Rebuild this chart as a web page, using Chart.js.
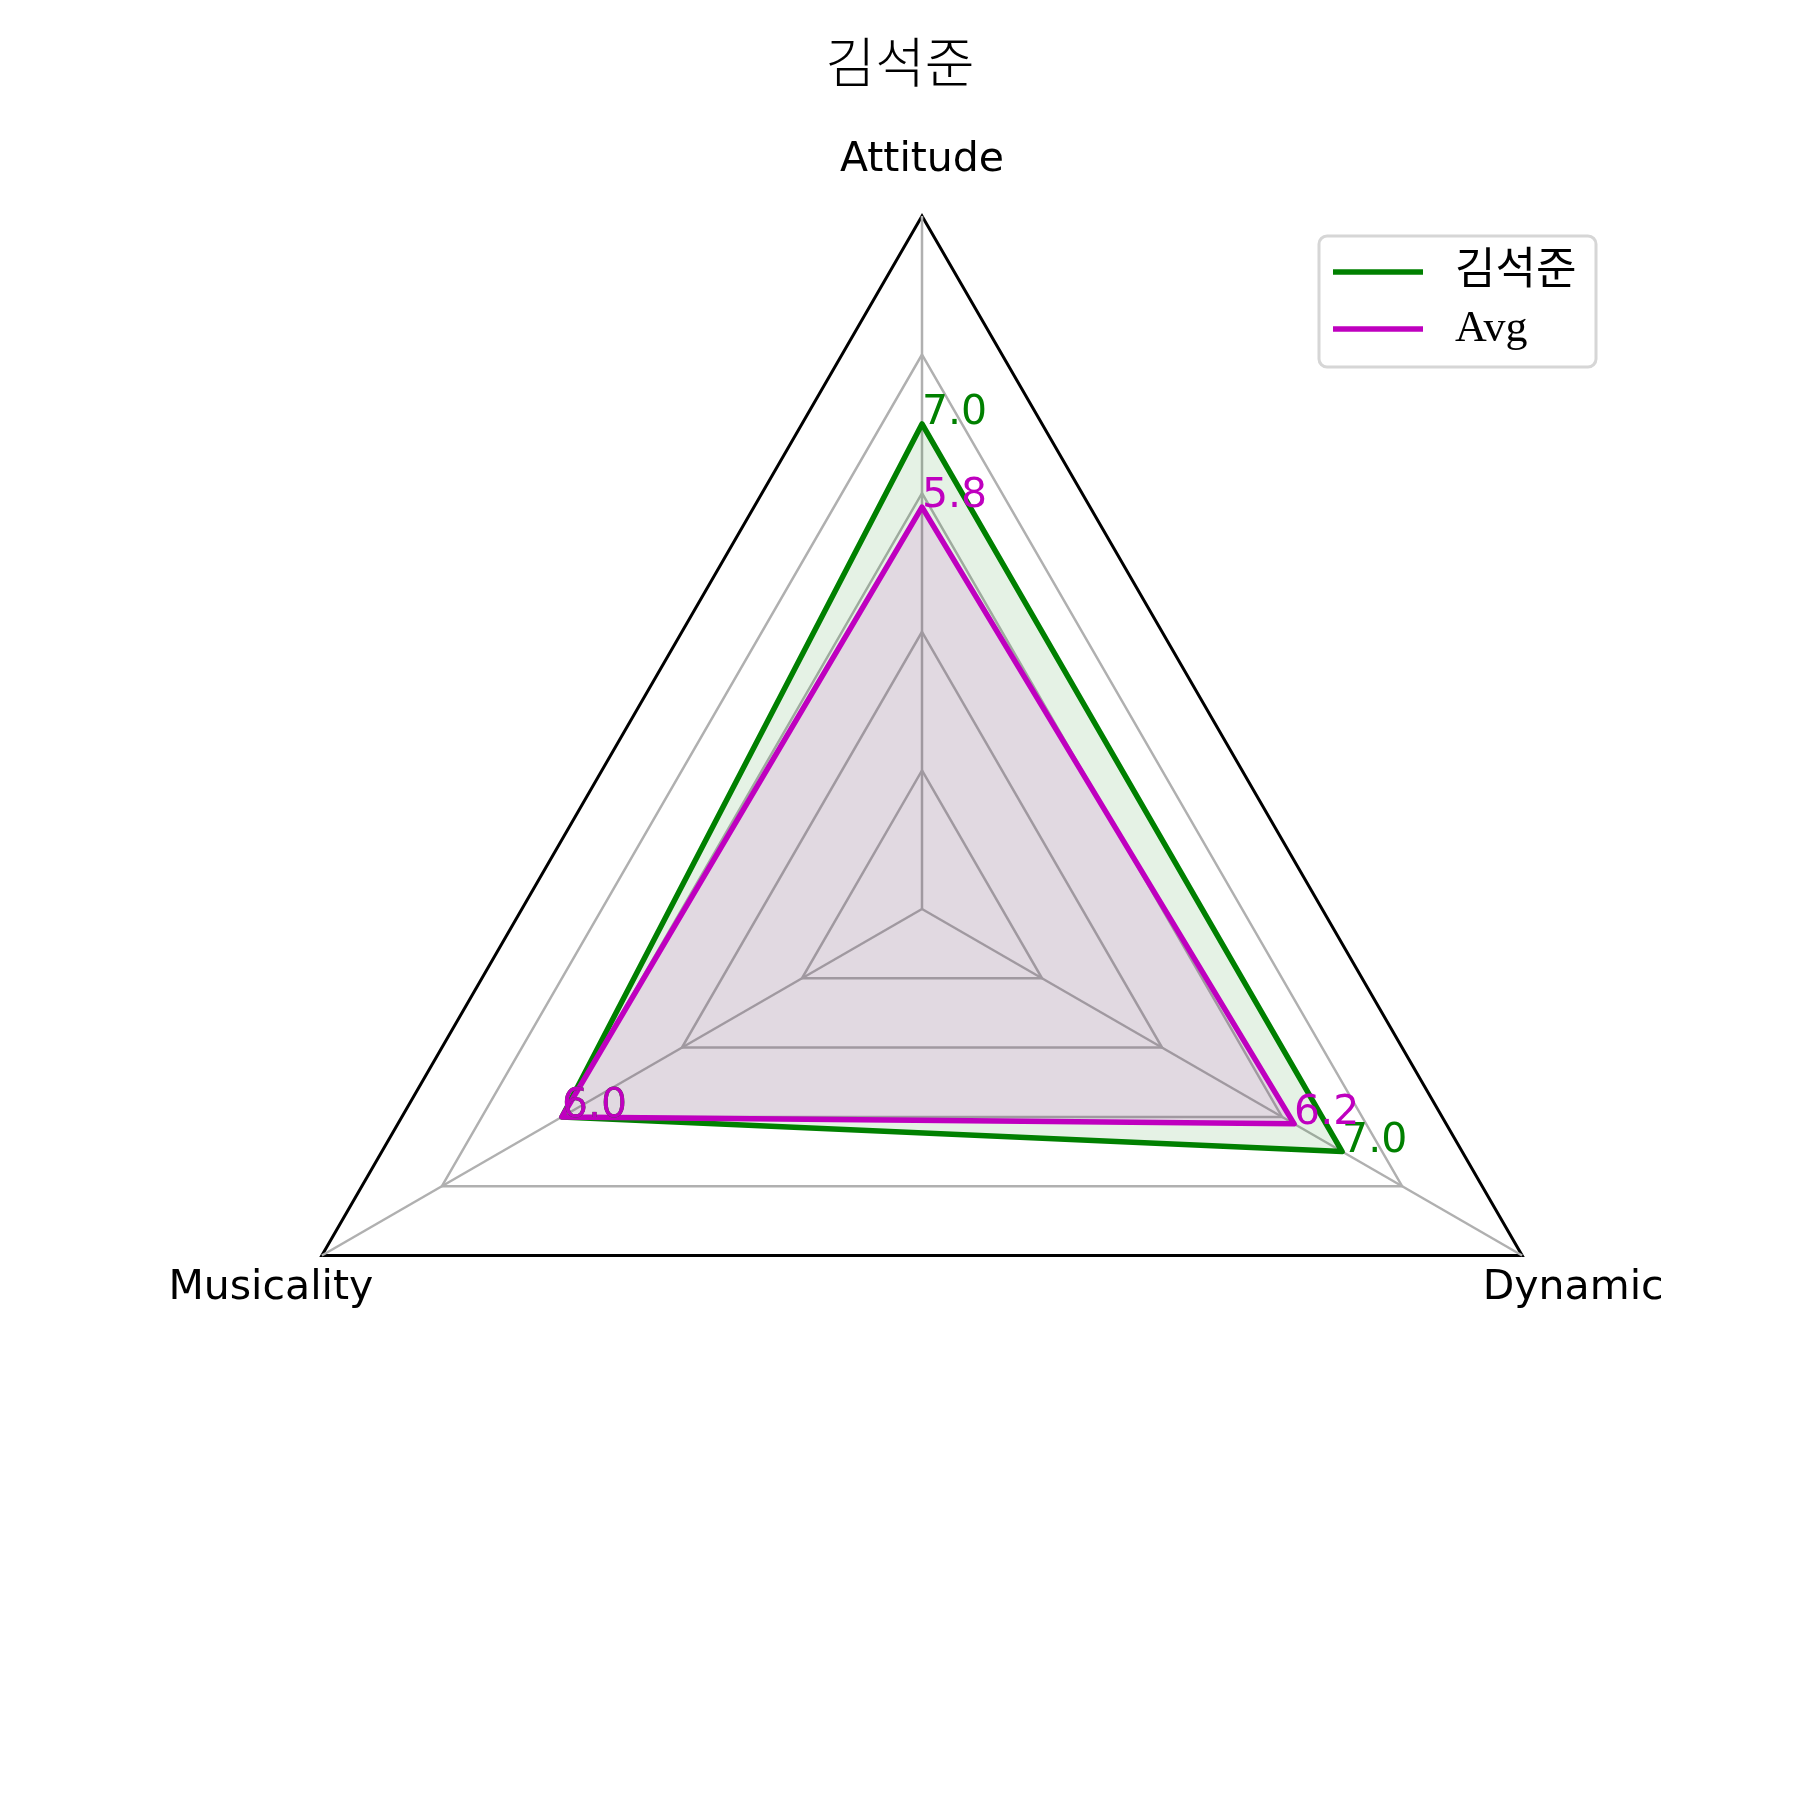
<!DOCTYPE html>
<html>
<head>
<meta charset="utf-8">
<script src="https://cdn.jsdelivr.net/npm/chart.js@4/dist/chart.umd.min.js"></script>
<style>
  body { margin: 0; background: #fff; }
  #wrap { width: 1800px; height: 1800px; }
</style>
</head>
<body>
<div id="wrap"><canvas id="chart" width="1800" height="1800"></canvas></div>
<script>
// ============================
// DATA
// ============================
const categories = ["Attitude", "Dynamic", "Musicality"];
const playerName = "김석준";
const playerScores = [7.0, 7.0, 6.0];
const avgScores = [5.8, 6.2, 6.0];
const gridTicks = [0, 2, 4, 6, 8, 10];

const GREEN = "#008000";
const MAGENTA = "#bf00bf";
const LABEL_FONT = "41px 'DejaVu Sans'";

// ============================
// PLUGIN - title, axis labels, value labels, legend
// ============================
const decorations = {
  id: "decorations",
  afterDatasetsDraw(chart) {
    const ctx = chart.ctx;
    const scale = chart.scales.r;
    ctx.save();

    // title
    ctx.fillStyle = "#000";
    ctx.font = "300 54px 'Noto Sans CJK KR'";
    ctx.textAlign = "center";
    ctx.textBaseline = "middle";
    ctx.fillText(playerName, 900, 62);

    // category labels
    ctx.font = LABEL_FONT;
    ctx.textBaseline = "alphabetic";
    categories.forEach((label, i) => {
      const p = scale.getPointPosition(i, scale.drawingArea * 1.085);
      ctx.fillText(label, p.x, p.y + 14);
    });

    // value labels next to each point
    ctx.textAlign = "left";
    chart.data.datasets.forEach((ds, di) => {
      const meta = chart.getDatasetMeta(di);
      ctx.fillStyle = ds.borderColor;
      meta.data.forEach((pt, i) => {
        ctx.fillText(ds.data[i].toFixed(1), pt.x, pt.y);
      });
    });

    // legend
    const bx = 1319, by = 236, bw = 277, bh = 131;
    ctx.strokeStyle = "#d6d6d6";
    ctx.lineWidth = 3;
    ctx.fillStyle = "rgba(255,255,255,0.8)";
    ctx.beginPath();
    ctx.roundRect(bx, by, bw, bh, 8);
    ctx.fill();
    ctx.stroke();
    chart.data.datasets.forEach((ds, di) => {
      const y = 272 + di * 57;
      ctx.strokeStyle = ds.borderColor;
      ctx.lineWidth = 5.5;
      ctx.beginPath();
      ctx.moveTo(1333, y);
      ctx.lineTo(1423, y);
      ctx.stroke();
      ctx.fillStyle = "#000";
      ctx.font = "44px 'Liberation Serif', 'Noto Sans CJK KR'";
      ctx.textBaseline = "middle";
      ctx.fillText(ds.label, 1455, y);
    });
    ctx.restore();
  }
};

// ============================
// RADAR CHART
// ============================
const ctx = document.getElementById("chart").getContext("2d");
new Chart(ctx, {
  type: "radar",
  data: {
    labels: categories,
    datasets: [
      {
        label: playerName,
        data: playerScores,
        borderColor: GREEN,
        backgroundColor: "rgba(0,128,0,0.1)",
        borderWidth: 5.5,
        borderJoinStyle: "round",
        pointRadius: 0,
        fill: true,
        order: 1
      },
      {
        label: "Avg",
        data: avgScores,
        borderColor: MAGENTA,
        backgroundColor: "rgba(191,0,191,0.1)",
        borderWidth: 5.5,
        borderJoinStyle: "round",
        pointRadius: 0,
        fill: true,
        order: 0
      }
    ]
  },
  options: {
    responsive: false,
    animation: false,
    devicePixelRatio: 1,
    layout: { padding: { left: 229, top: 216, right: 185, bottom: 198 } },
    plugins: {
      legend: { display: false },
      title: { display: false },
      tooltip: { enabled: false }
    },
    scales: {
      r: {
        min: gridTicks[0],
        max: gridTicks[gridTicks.length - 1],
        startAngle: 0,
        afterBuildTicks: (axis) => {
          axis.ticks = gridTicks.map(v => ({ value: v }));
        },
        ticks: { display: false },
        pointLabels: { display: false },
        angleLines: { color: "#b0b0b0", lineWidth: 2.5 },
        grid: {
          circular: false,
          lineWidth: (c) => (c.tick && c.tick.value === 10 ? 3 : 2.5),
          color: (c) => (c.tick && c.tick.value === 10 ? "#000" : "#b0b0b0")
        }
      }
    }
  },
  plugins: [decorations]
});
</script>
</body>
</html>
